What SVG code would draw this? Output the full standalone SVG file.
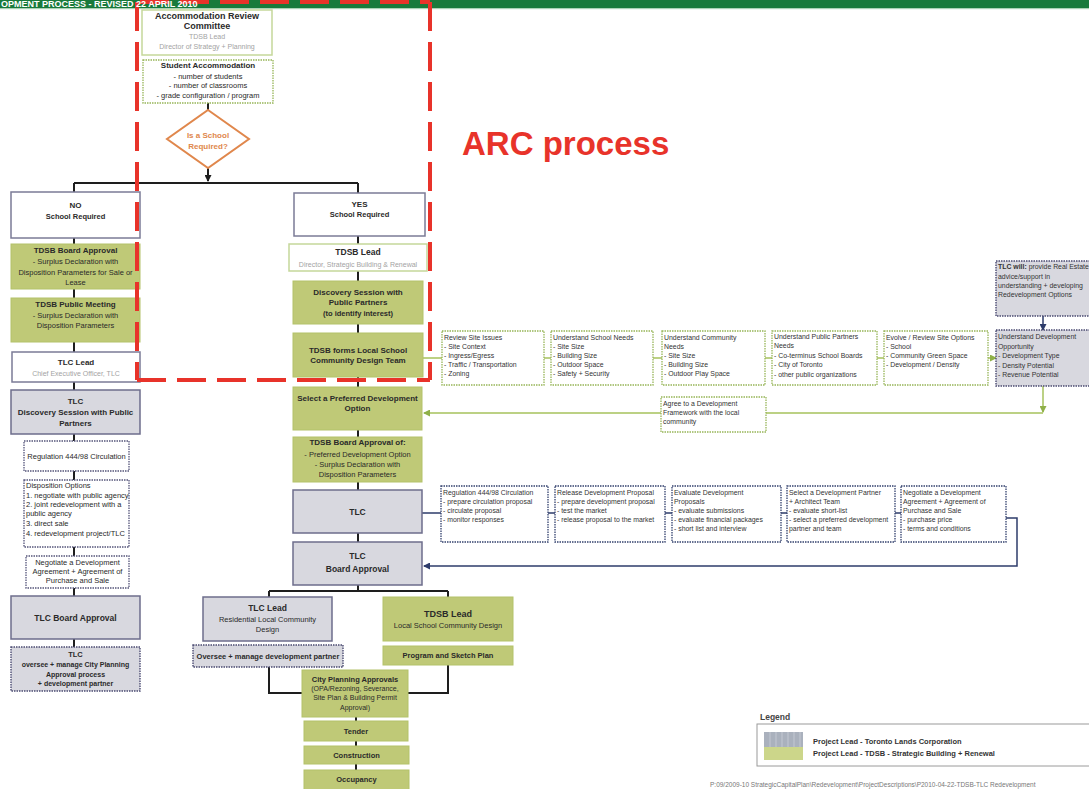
<svg xmlns="http://www.w3.org/2000/svg" width="1089" height="789" viewBox="0 0 1089 789">
<style>
text{font-family:"Liberation Sans",Arial,sans-serif;fill:#2a2a2a}
.c{text-anchor:middle}
.t{font-weight:bold;font-size:8px}
.tb{font-weight:bold;font-size:7.5px}
.b{font-size:7.5px}
.g{font-size:7px;fill:#a3a3a3}
.s{font-size:6.9px;fill:#333}
.gf{fill:#bfc977;stroke:#b3c26a;stroke-width:1}
.pf{fill:#d8d8df;stroke:#6d6d8c;stroke-width:1.5}
.pd{fill:#d8d8df;stroke:#4b4b72;stroke-width:1.4;stroke-dasharray:1.5 1}
.wp{fill:#fff;stroke:#7b7b96;stroke-width:1.5}
.wg{fill:#fff;stroke:#c5d79a;stroke-width:1.5}
.dg{fill:#fff;stroke:#97b558;stroke-width:1.3;stroke-dasharray:1.5 1}
.db{fill:#fff;stroke:#33416e;stroke-width:1.3;stroke-dasharray:1.5 1}
.wd{fill:#fff;stroke:#55557a;stroke-width:1.3;stroke-dasharray:1.5 1}
.k{stroke:#1e1e1e;stroke-width:2;fill:none}
.gl{stroke:#a6c25c;stroke-width:1.5;fill:none}
.bl{stroke:#2e3c6b;stroke-width:1.5;fill:none}
.red{stroke:#e8332a;stroke-width:4;fill:none;stroke-dasharray:29 11}
</style>
<defs>
<marker id="ak" markerWidth="7" markerHeight="7" refX="6" refY="3.5" orient="auto" markerUnits="userSpaceOnUse"><path d="M0,0 L7,3.5 L0,7 z" fill="#1e1e1e"/></marker>
<marker id="ag" markerWidth="7" markerHeight="7" refX="6" refY="3.5" orient="auto" markerUnits="userSpaceOnUse"><path d="M0,0 L7,3.5 L0,7 z" fill="#8fb048"/></marker>
<marker id="ab" markerWidth="7" markerHeight="7" refX="6" refY="3.5" orient="auto" markerUnits="userSpaceOnUse"><path d="M0,0 L7,3.5 L0,7 z" fill="#2e3c6b"/></marker>
</defs>
<rect width="1089" height="789" fill="#fff"/>

<g id="header-bar">
<rect x="0" y="0" width="1089" height="8" fill="#187a3b"/>
<rect x="0" y="8" width="1089" height="1.2" fill="#a9d2b4"/>
</g>

<g id="connectors">
<path class="k" d="M208,103 V110"/>
<path class="k" d="M208,168 V181" marker-end="url(#ak)"/>
<path class="k" d="M74,183 H358"/>
<path class="k" d="M74,183 V647"/>
<path class="k" d="M358,183 V591"/>
<path class="k" d="M269,591 H448 M269,591 V597 M448,591 V597"/>
<path class="k" d="M269,667 V693 H302 M448,664 V693 H408"/>
<path class="k" d="M356,717 V770"/>
<path class="gl" d="M423,358 H442 M544,358 H551 M653,358 H662 M765,358 H772 M877,358 H884"/>
<path class="gl" d="M988,358 H996" marker-end="url(#ag)"/>
<path class="gl" d="M1043,386 V412" marker-end="url(#ag)"/>
<path class="gl" d="M1043,413 H766 M661,413 H424" marker-end="url(#ag)"/>
<path class="bl" d="M1043,316 V330" marker-end="url(#ab)"/>
<path class="bl" d="M422,513 H441 M548,513 H555 M665,513 H672 M781,513 H787 M895,513 H901"/>
<path class="bl" d="M1006,518 H1017 V566 H424" marker-end="url(#ab)"/>
</g>

<g id="n-arc">
<rect class="wg" x="142" y="10" width="130" height="45"/>
<text class="c" x="207" y="19" style="font-weight:bold;font-size:9px">Accommodation Review</text>
<text class="c" x="207" y="29" style="font-weight:bold;font-size:9px">Committee</text>
<text class="c g" x="207" y="39">TDSB Lead</text>
<text class="c g" x="207" y="49">Director of Strategy + Planning</text>
</g>
<g id="n-student">
<rect class="dg" x="143" y="60" width="130" height="43"/>
<text class="c t" x="208" y="68">Student Accommodation</text>
<text class="c b" x="208" y="79">- number of students</text>
<text class="c b" x="208" y="88">- number of classrooms</text>
<text class="c b" x="208" y="98">- grade configuration / program</text>
</g>
<g id="n-decision">
<polygon points="208,110 249,139 208,168 167,139" fill="#fff" stroke="#e0874c" stroke-width="2"/>
<text class="c" x="208" y="138" style="font-weight:bold;font-size:8px;fill:#e0874c">Is a School</text>
<text class="c" x="208" y="149" style="font-weight:bold;font-size:8px;fill:#e0874c">Required?</text>
</g>

<g id="n-no">
<rect class="wp" x="11" y="192" width="129" height="46"/>
<text class="c t" x="75.5" y="208">NO</text>
<text class="c tb" x="75.5" y="219">School Required</text>
</g>
<g id="n-boardapproval">
<rect class="gf" x="11" y="244" width="129" height="45"/>
<text class="c t" x="75.5" y="253">TDSB Board Approval</text>
<text class="c b" x="75.5" y="264">- Surplus Declaration with</text>
<text class="c b" x="75.5" y="275">Disposition Parameters for Sale or</text>
<text class="c b" x="75.5" y="285">Lease</text>
</g>
<g id="n-publicmeeting">
<rect class="gf" x="11" y="298" width="129" height="44"/>
<text class="c t" x="75.5" y="307">TDSB Public Meeting</text>
<text class="c b" x="75.5" y="318">- Surplus Declaration with</text>
<text class="c b" x="75.5" y="328">Disposition Parameters</text>
</g>
<g id="n-tlclead">
<rect class="wp" x="12" y="352" width="128" height="30"/>
<text class="c t" x="76" y="365">TLC Lead</text>
<text class="c g" x="76" y="376">Chief Executive Officer, TLC</text>
</g>
<g id="n-tlcdiscovery">
<rect class="pf" x="11" y="390" width="129" height="44"/>
<text class="c t" x="75.5" y="404">TLC</text>
<text class="c t" x="75.5" y="415">Discovery Session with Public</text>
<text class="c t" x="75.5" y="426">Partners</text>
</g>
<g id="n-reg-left">
<rect class="wd" x="24" y="441" width="105" height="30"/>
<text class="c b" x="76.5" y="459">Regulation 444/98 Circulation</text>
</g>
<g id="n-disposition">
<rect class="wd" x="24" y="480" width="105" height="67"/>
<text class="b" x="26" y="488">Disposition Options</text>
<text class="b" x="26" y="498">1. negotiate with public agency</text>
<text class="b" x="26" y="507">2. joint redevelopment with a</text>
<text class="b" x="26" y="516">public agency</text>
<text class="b" x="26" y="526">3. direct sale</text>
<text class="b" x="26" y="536">4. redevelopment project/TLC</text>
</g>
<g id="n-negotiate-left">
<rect class="wd" x="26" y="556" width="103" height="32"/>
<text class="c b" x="77.5" y="565">Negotiate a Development</text>
<text class="c b" x="77.5" y="574">Agreement + Agreement of</text>
<text class="c b" x="77.5" y="583">Purchase and Sale</text>
</g>
<g id="n-tlcboard-left">
<rect class="pf" x="11" y="596" width="129" height="43"/>
<text class="c" x="75.5" y="621" style="font-weight:bold;font-size:8.5px">TLC Board Approval</text>
</g>
<g id="n-tlcoversee">
<rect class="pd" x="11" y="647" width="129" height="44"/>
<text class="c tb" x="75.5" y="657">TLC</text>
<text class="c" x="75.5" y="667" style="font-weight:bold;font-size:7px">oversee + manage City Planning</text>
<text class="c" x="75.5" y="677" style="font-weight:bold;font-size:7px">Approval process</text>
<text class="c" x="75.5" y="686" style="font-weight:bold;font-size:7px">+ development partner</text>
</g>

<g id="n-yes">
<rect class="wp" x="294" y="193" width="131" height="43"/>
<text class="c t" x="359.5" y="207">YES</text>
<text class="c tb" x="359.5" y="217">School Required</text>
</g>
<g id="n-tdsblead">
<rect class="wg" x="289" y="244" width="138" height="27"/>
<text class="c" x="358" y="255" style="font-weight:bold;font-size:8.5px">TDSB Lead</text>
<text class="c g" x="358" y="267">Director, Strategic Building &amp; Renewal</text>
</g>
<g id="n-discovery">
<rect class="gf" x="293" y="281" width="130" height="43"/>
<text class="c t" x="358" y="295">Discovery Session with</text>
<text class="c t" x="358" y="305">Public Partners</text>
<text class="c tb" x="358" y="316">(to identify interest)</text>
</g>
<g id="n-designteam">
<rect class="gf" x="293" y="333" width="130" height="44"/>
<text class="c t" x="358" y="353">TDSB forms Local School</text>
<text class="c t" x="358" y="363">Community Design Team</text>
</g>
<g id="n-preferred">
<rect class="gf" x="293" y="387" width="129" height="43"/>
<text class="c t" x="357.5" y="401">Select a Preferred Development</text>
<text class="c t" x="357.5" y="411">Option</text>
</g>
<g id="n-boardapprovalof">
<rect class="gf" x="293" y="437" width="129" height="45"/>
<text class="c t" x="357.5" y="445">TDSB Board Approval of:</text>
<text class="c b" x="357.5" y="457">- Preferred Development Option</text>
<text class="c b" x="357.5" y="467">- Surplus Declaration with</text>
<text class="c b" x="357.5" y="477">Disposition Parameters</text>
</g>
<g id="n-tlc">
<rect class="pf" x="293" y="490" width="129" height="43"/>
<text class="c" x="357.5" y="515" style="font-weight:bold;font-size:8.5px">TLC</text>
</g>
<g id="n-tlcboard">
<rect class="pf" x="293" y="542" width="129" height="43"/>
<text class="c" x="357.5" y="559" style="font-weight:bold;font-size:8.5px">TLC</text>
<text class="c" x="357.5" y="572" style="font-weight:bold;font-size:8.5px">Board Approval</text>
</g>
<g id="n-tlcresidential">
<rect class="pf" x="203" y="597" width="129" height="44"/>
<text class="c" x="267.5" y="611" style="font-weight:bold;font-size:8.5px">TLC Lead</text>
<text class="c b" x="267.5" y="622">Residential Local Community</text>
<text class="c b" x="267.5" y="632">Design</text>
</g>
<g id="n-tdsblocal">
<rect class="gf" x="383" y="597" width="130" height="44"/>
<text class="c" x="448" y="617" style="font-weight:bold;font-size:9px">TDSB Lead</text>
<text class="c b" x="448" y="628">Local School Community Design</text>
</g>
<g id="n-oversee">
<rect class="pd" x="193" y="645" width="150" height="22"/>
<text class="c tb" x="268" y="659">Oversee + manage development partner</text>
</g>
<g id="n-sketch">
<rect class="gf" x="383" y="646" width="130" height="19"/>
<text class="c tb" x="448" y="658">Program and Sketch Plan</text>
</g>
<g id="n-cityplanning">
<rect class="gf" x="302" y="670" width="106" height="47"/>
<text class="c tb" x="355" y="682">City Planning Approvals</text>
<text class="c" x="355" y="691" style="font-size:7px">(OPA/Rezoning, Severance,</text>
<text class="c" x="355" y="700" style="font-size:7px">Site Plan &amp; Building Permit</text>
<text class="c" x="355" y="710" style="font-size:7px">Approval)</text>
</g>
<g id="n-tender">
<rect class="gf" x="304" y="721" width="104" height="20"/>
<text class="c tb" x="356" y="734">Tender</text>
</g>
<g id="n-construction">
<rect class="gf" x="304" y="746" width="105" height="18"/>
<text class="c tb" x="356.5" y="758">Construction</text>
</g>
<g id="n-occupancy">
<rect class="gf" x="304" y="770" width="105" height="21"/>
<text class="c tb" x="356.5" y="782">Occupancy</text>
</g>

<g id="n-sitereview">
<rect class="dg" x="442" y="331" width="102" height="54"/>
<text class="s" x="444" y="340">Review Site Issues</text>
<text class="s" x="444" y="349">- Site Context</text>
<text class="s" x="444" y="358">- Ingress/Egress</text>
<text class="s" x="444" y="367">- Traffic / Transportation</text>
<text class="s" x="444" y="376">-  Zoning</text>
</g>
<g id="n-schoolneeds">
<rect class="dg" x="551" y="331" width="102" height="54"/>
<text class="s" x="553" y="340">Understand School Needs</text>
<text class="s" x="553" y="349">- Site Size</text>
<text class="s" x="553" y="358">- Building Size</text>
<text class="s" x="553" y="367">- Outdoor Space</text>
<text class="s" x="553" y="376">- Safety + Security</text>
</g>
<g id="n-communityneeds">
<rect class="dg" x="662" y="331" width="103" height="54"/>
<text class="s" x="664" y="340">Understand Community</text>
<text class="s" x="664" y="349">Needs</text>
<text class="s" x="664" y="358">- Site Size</text>
<text class="s" x="664" y="367">- Building Size</text>
<text class="s" x="664" y="376">- Outdoor Play Space</text>
</g>
<g id="n-partnerneeds">
<rect class="dg" x="772" y="331" width="105" height="54"/>
<text class="s" x="774" y="339">Understand Public Partners</text>
<text class="s" x="774" y="348">Needs</text>
<text class="s" x="774" y="358">- Co-terminus School Boards</text>
<text class="s" x="774" y="367">- City of Toronto</text>
<text class="s" x="774" y="377">- other public organizations</text>
</g>
<g id="n-evolve">
<rect class="dg" x="884" y="331" width="104" height="54"/>
<text class="s" x="886" y="340">Evolve / Review Site Options</text>
<text class="s" x="886" y="349">- School</text>
<text class="s" x="886" y="358">- Community Green Space</text>
<text class="s" x="886" y="367">- Development / Density</text>
</g>
<g id="n-devopp">
<rect class="pd" x="996" y="330" width="100" height="56"/>
<text class="s" x="998" y="339">Understand Development</text>
<text class="s" x="998" y="349">Opportunity</text>
<text class="s" x="998" y="358">- Development Type</text>
<text class="s" x="998" y="368">- Density Potential</text>
<text class="s" x="998" y="377">- Revenue Potential</text>
</g>
<g id="n-tlcwill">
<rect class="pd" x="996" y="261" width="100" height="55"/>
<text class="s" x="998" y="269"><tspan font-weight="bold">TLC will:</tspan>  provide Real Estate</text>
<text class="s" x="998" y="279">advice/support in</text>
<text class="s" x="998" y="288">understanding + developing</text>
<text class="s" x="998" y="297">Redevelopment Options</text>
</g>
<g id="n-agree">
<rect class="dg" x="661" y="397" width="105" height="35"/>
<text class="s" x="663" y="406">Agree to a Development</text>
<text class="s" x="663" y="415">Framework with the local</text>
<text class="s" x="663" y="424">community</text>
</g>

<g id="n-reg-right">
<rect class="db" x="441" y="486" width="107" height="56"/>
<text class="s" x="443" y="495">Regulation 444/98 Circulation</text>
<text class="s" x="443" y="504">- prepare circulation proposal</text>
<text class="s" x="443" y="513">- circulate proposal</text>
<text class="s" x="443" y="522">- monitor responses</text>
</g>
<g id="n-release">
<rect class="db" x="555" y="486" width="110" height="56"/>
<text class="s" x="557" y="495">Release Development Proposal</text>
<text class="s" x="557" y="504">- prepare development proposal</text>
<text class="s" x="557" y="513">- test the market</text>
<text class="s" x="557" y="522">- release proposal to the market</text>
</g>
<g id="n-evaluate">
<rect class="db" x="672" y="486" width="109" height="56"/>
<text class="s" x="674" y="495">Evaluate Development</text>
<text class="s" x="674" y="504">Proposals</text>
<text class="s" x="674" y="513">- evaluate submissions</text>
<text class="s" x="674" y="522">- evaluate financial packages</text>
<text class="s" x="674" y="531">- short list and interview</text>
</g>
<g id="n-selectpartner">
<rect class="db" x="787" y="486" width="108" height="56"/>
<text class="s" x="789" y="495">Select a Development Partner</text>
<text class="s" x="789" y="504">+ Architect Team</text>
<text class="s" x="789" y="513">- evaluate short-list</text>
<text class="s" x="789" y="522">- select a preferred development</text>
<text class="s" x="789" y="531">partner and team</text>
</g>
<g id="n-negotiate-right">
<rect class="db" x="901" y="486" width="105" height="56"/>
<text class="s" x="903" y="495">Negotiate a Development</text>
<text class="s" x="903" y="504">Agreement + Agreement of</text>
<text class="s" x="903" y="513">Purchase and Sale</text>
<text class="s" x="903" y="522">- purchase price</text>
<text class="s" x="903" y="531">- terms and conditions</text>
</g>

<g id="arc-region">
<path class="red" d="M137,2 H430" stroke-dashoffset="-3"/>
<path class="red" d="M137,2 V380"/>
<path class="red" d="M430,2 V380"/>
<path class="red" d="M137,380 H430"/>
<text x="462" y="155" style="font-weight:bold;font-size:33px;fill:#e8332a">ARC process</text>
</g>

<g id="header-title">
<text x="1" y="7" style="font-size:9px;font-weight:bold;fill:#fff">OPMENT PROCESS - REVISED 22 APRIL 2010</text>
</g>

<g id="legend">
<text x="760" y="720" style="font-weight:bold;font-size:8.5px;fill:#444">Legend</text>
<rect x="757" y="724" width="340" height="42" fill="#fff" stroke="#9a9a9a" stroke-width="1"/>
<rect x="764" y="732" width="39" height="15" fill="#aab1bd"/>
<path d="M770,732 V747 M776,732 V747 M782,732 V747 M788,732 V747 M794,732 V747 M800,732 V747" stroke="#c3c8d2" stroke-width="1"/>
<rect x="764" y="747" width="39" height="13" fill="#ccd68a"/>
<text x="813" y="744" style="font-weight:bold;font-size:7.5px;fill:#333">Project Lead - Toronto Lands Corporation</text>
<text x="813" y="756" style="font-weight:bold;font-size:7.5px;fill:#333">Project Lead - TDSB - Strategic Building + Renewal</text>
</g>
<text x="710" y="787" style="font-size:6.5px;fill:#777">P:09/2009-10 StrategicCapitalPlan\Redevelopment\ProjectDescriptions\P2010-04-22-TDSB-TLC Redevelopment</text>
</svg>
